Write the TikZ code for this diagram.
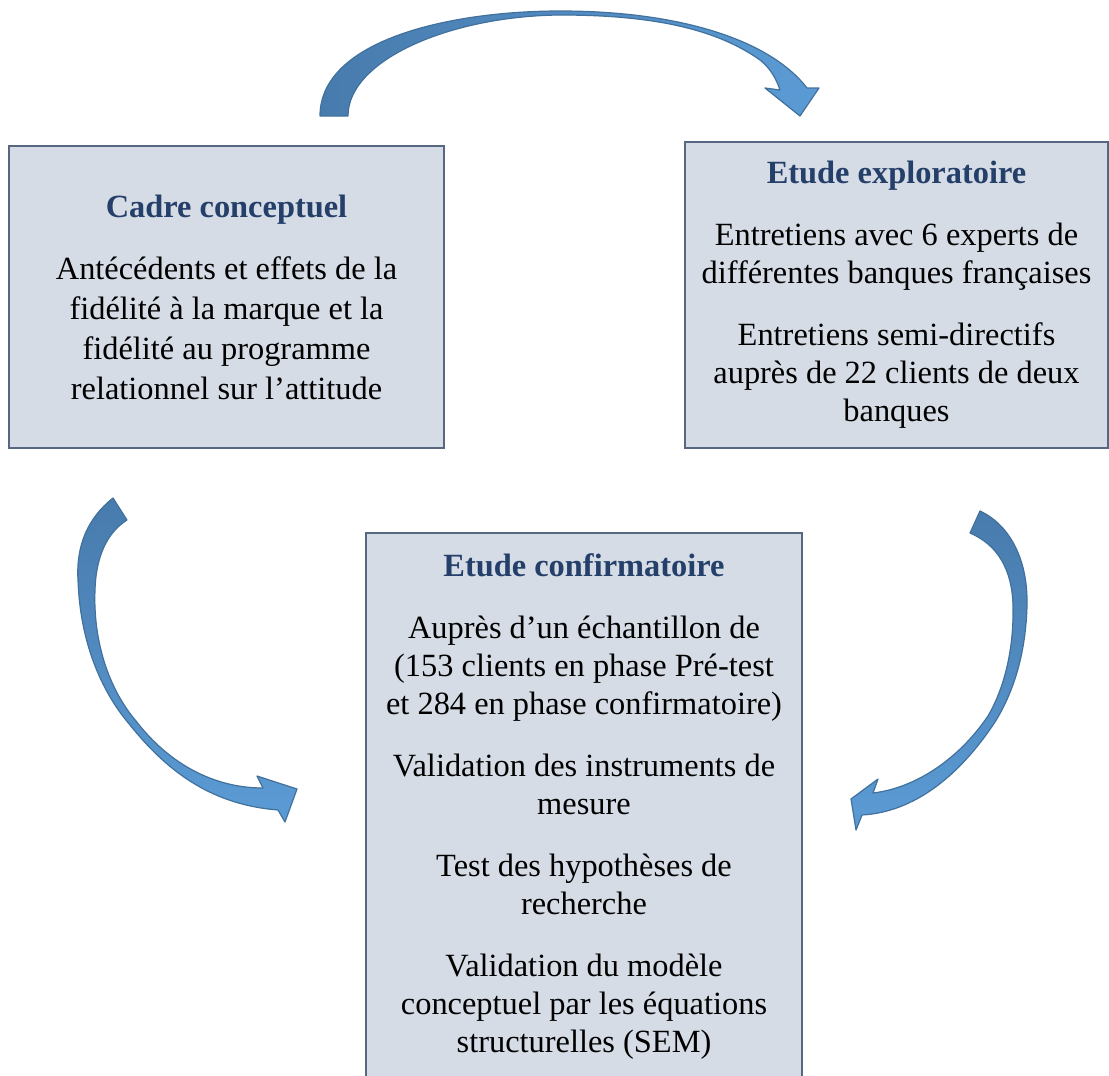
\documentclass[tikz,border=0pt]{standalone}
\usepackage{fontspec}
\setmainfont{Liberation Serif}
\usetikzlibrary{positioning}

\definecolor{boxfill}{HTML}{D6DCE5}
\definecolor{boxline}{HTML}{56677F}
\definecolor{titleblue}{HTML}{243F69}
\definecolor{arrowdark}{HTML}{487BAD}
\definecolor{arrowlight}{HTML}{5B9BD5}
\definecolor{arrowline}{HTML}{41719C}

\tikzset{
  stagebox/.style={draw=boxline, line width=1pt, fill=boxfill, align=center,
    inner sep=0pt, font=\fontsize{16.2}{19}\selectfont},
  blockarrow/.style={draw=arrowline, line width=0.6pt, line join=round}
}
\newcommand{\stagetitle}[1]{{\bfseries\color{titleblue}#1}}

\begin{document}
\begin{tikzpicture}[x=0.5pt, y=-0.5pt]
\useasboundingbox (0,0) rectangle (1109,1076);

% the three boxes
\node[stagebox, font=\fontsize{16.2}{20}\selectfont,
      minimum width=217.5pt, minimum height=151pt] (cadre) at (226.5,297)
  {\stagetitle{Cadre conceptuel}\\[11pt]
   Antécédents et effets de la\\
   fidélité à la marque et la\\
   fidélité au programme\\
   relationnel sur l’attitude};
\node[stagebox, minimum width=211.5pt, minimum height=153pt] (explo) at (896.5,295)
  {\stagetitle{Etude exploratoire}\\[12pt]
   Entretiens avec 6 experts de\\
   différentes banques françaises\\[12pt]
   Entretiens semi-directifs\\
   auprès de 22 clients de deux\\
   banques};
\node[stagebox, minimum width=218pt, minimum height=274pt] (confirm) at (584,807)
  {\stagetitle{Etude confirmatoire}\\[12pt]
   Auprès d’un échantillon de\\
   (153 clients en phase Pré-test\\
   et 284 en phase confirmatoire)\\[12pt]
   Validation des instruments de\\
   mesure\\[12pt]
   Test des hypothèses de\\
   recherche\\[12pt]
   Validation du modèle\\
   conceptuel par les équations\\
   structurelles (SEM)};

% curved block arrows
\path[blockarrow, left color=arrowdark, right color=arrowlight]
  (320,116) .. controls (320,40) and (450,11) .. (560,11)
  .. controls (680,11) and (770,40) .. (807,88)
  -- (819,88) -- (800,116) -- (765,88) -- (780,90)
  .. controls (776,78) and (770,68) .. (760,60)
  .. controls (715,28) and (650,15) .. (560,15)
  .. controls (450,16) and (348,60) .. (348,116) -- cycle;

\path[blockarrow, top color=arrowdark, bottom color=arrowlight]
  (113,498) .. controls (88,518) and (76,545) .. (78,580)
  .. controls (80,640) and (100,690) .. (130,725)
  .. controls (170,775) and (215,805) .. (278,810)
  -- (285,822) -- (297,789) -- (257,776) -- (263,788)
  .. controls (215,788) and (170,765) .. (136,721)
  .. controls (108,688) and (93,640) .. (95,590)
  .. controls (96,555) and (108,532) .. (127,520) -- cycle;

\path[blockarrow, top color=arrowdark, bottom color=arrowlight]
  (980,511) .. controls (1010,525) and (1028,560) .. (1027,605)
  .. controls (1026,650) and (1015,690) .. (995,722)
  .. controls (960,775) and (915,812) .. (862,815)
  -- (856,830) -- (851,799) -- (878,779) -- (873,793)
  .. controls (915,788) and (958,760) .. (988,716)
  .. controls (1006,685) and (1014,645) .. (1013,605)
  .. controls (1012,570) and (998,545) .. (970,533) -- cycle;
\end{tikzpicture}
\end{document}
